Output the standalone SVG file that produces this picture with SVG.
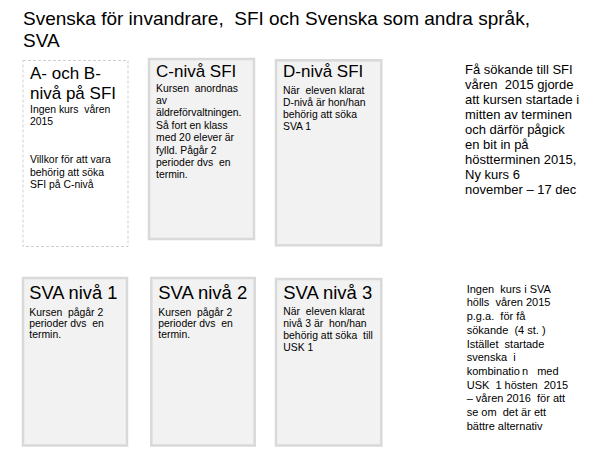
<svg xmlns="http://www.w3.org/2000/svg" width="604" height="461" viewBox="0 0 604 461">
<style>
text { font-family: "Liberation Sans", Arial, sans-serif; fill: #000; white-space: pre; }
.title { font-size: 19px; }
.h { font-size: 17px; }
.hs { font-size: 18.5px; }
.b { font-size: 10.4px; }
.nt { font-size: 13px; }
.ns { font-size: 11px; }
.box { fill: #f2f2f2; stroke: #d9d9d9; stroke-width: 2.5; }
.dash { fill: #ffffff; stroke: #cfcfcf; stroke-width: 1; stroke-dasharray: 3 2; }
</style>
<rect width="604" height="461" fill="#ffffff"/>
<g id="title">
<text class="title" x="23" y="25">Svenska för invandrare,  SFI och Svenska som andra språk,</text>
<text class="title" x="23" y="46.7">SVA</text>
</g>
<g id="node-ab-sfi">
<rect class="dash" x="23" y="60.5" width="105" height="186"/>
<text class="h" x="30" y="79">A- och B-</text>
<text class="h" x="30" y="99">nivå på SFI</text>
<text class="b" x="30" y="112.5">Ingen kurs  våren</text>
<text class="b" x="30" y="125">2015</text>
<text class="b" x="30" y="163.3">Villkor för att vara</text>
<text class="b" x="30" y="175.5">behörig att söka</text>
<text class="b" x="30" y="187.5">SFI på C-nivå</text>
</g>
<g id="node-c-sfi">
<rect class="box" x="149" y="59" width="105" height="180"/>
<text class="h" x="156" y="77">C-nivå SFI</text>
<text class="b" x="156" y="91.7">Kursen  anordnas</text>
<text class="b" x="156" y="104">av</text>
<text class="b" x="156" y="116.4">äldreförvaltningen.</text>
<text class="b" x="156" y="128.8">Så fort en klass</text>
<text class="b" x="156" y="141.2">med 20 elever är</text>
<text class="b" x="156" y="153.6">fylld. Pågår 2</text>
<text class="b" x="156" y="166">perioder dvs  en</text>
<text class="b" x="156" y="178.4">termin.</text>
</g>
<g id="node-d-sfi">
<rect class="box" x="276" y="60.3" width="105.3" height="185"/>
<text class="h" x="283" y="76.7">D-nivå SFI</text>
<text class="b" x="283" y="94">När  eleven klarat</text>
<text class="b" x="283" y="105.8">D-nivå är hon/han</text>
<text class="b" x="283" y="117.6">behörig att söka</text>
<text class="b" x="283" y="129.6">SVA 1</text>
</g>
<g id="note-sfi">
<text class="nt" x="465" y="74.3">Få sökande till SFI</text>
<text class="nt" x="465" y="89.2">våren  2015 gjorde</text>
<text class="nt" x="465" y="104.1">att kursen startade i</text>
<text class="nt" x="465" y="119">mitten av terminen</text>
<text class="nt" x="465" y="133.9">och därför pågick</text>
<text class="nt" x="465" y="148.8">en bit in på</text>
<text class="nt" x="465" y="163.7">höstterminen 2015,</text>
<text class="nt" x="465" y="178.6">Ny kurs 6</text>
<text class="nt" x="465" y="193.5">november – 17 dec</text>
</g>
<g id="node-sva1">
<rect class="box" x="23" y="278" width="104" height="167.5"/>
<text class="hs" x="29.3" y="298.5" textLength="88" lengthAdjust="spacingAndGlyphs">SVA nivå 1</text>
<text class="b" x="29.3" y="315.5">Kursen  pågår 2</text>
<text class="b" x="29.3" y="326.8">perioder dvs  en</text>
<text class="b" x="29.3" y="338.2">termin.</text>
</g>
<g id="node-sva2">
<rect class="box" x="151.3" y="278" width="103.4" height="167.5"/>
<text class="hs" x="158.3" y="298.5" textLength="89" lengthAdjust="spacingAndGlyphs">SVA nivå 2</text>
<text class="b" x="158.3" y="315.5">Kursen  pågår 2</text>
<text class="b" x="158.3" y="326.8">perioder dvs  en</text>
<text class="b" x="158.3" y="338.2">termin.</text>
</g>
<g id="node-sva3">
<rect class="box" x="276" y="279" width="105.3" height="166.5"/>
<text class="hs" x="283.3" y="298.5" textLength="89" lengthAdjust="spacingAndGlyphs">SVA nivå 3</text>
<text class="b" x="283.3" y="315.2">När  eleven klarat</text>
<text class="b" x="283.3" y="326.9">nivå 3 är  hon/han</text>
<text class="b" x="283.3" y="338.8">behörig att söka  till</text>
<text class="b" x="283.3" y="350.6">USK 1</text>
</g>
<g id="note-sva">
<text class="ns" x="466.7" y="292.7">Ingen  kurs i SVA</text>
<text class="ns" x="466.7" y="306.4">hölls  våren 2015</text>
<text class="ns" x="466.7" y="320.1">p.g.a.  för få</text>
<text class="ns" x="466.7" y="333.8">sökande  (4 st. )</text>
<text class="ns" x="466.7" y="347.5">Istället  startade</text>
<text class="ns" x="466.7" y="361.2">svenska  i</text>
<text class="ns" x="466.7" y="374.9">kombinatio<tspan dx="2">n</tspan>   med</text>
<text class="ns" x="466.7" y="388.6">USK  1 hösten  2015</text>
<text class="ns" x="466.7" y="402.3">– våren 2016  för att</text>
<text class="ns" x="466.7" y="416">se om  det är ett</text>
<text class="ns" x="466.7" y="429.7">bättre alternativ</text>
</g>
</svg>
